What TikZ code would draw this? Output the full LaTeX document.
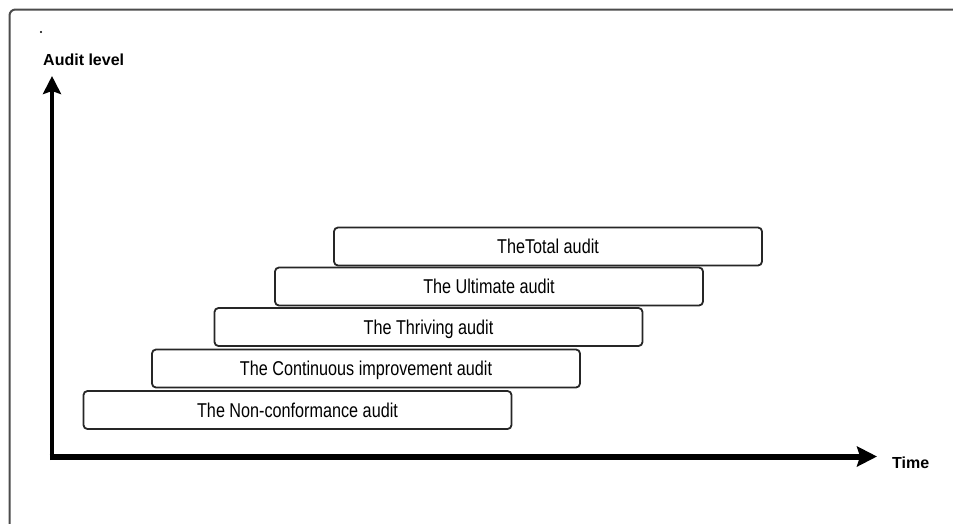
\documentclass[tikz,border=0pt]{standalone}
\usepackage{fontspec}
\usepackage{graphicx}
\setmainfont{Liberation Sans}
\usetikzlibrary{arrows.meta}

\tikzset{
  level/.style={draw=black!85, line width=1.8pt, fill=white, rounded corners=4pt,
    minimum width=428pt, minimum height=38pt, inner sep=0pt,
    text height=14.3pt, text depth=0pt,
    font=\fontsize{20}{24}\selectfont},
  axislabel/.style={font=\bfseries\fontsize{16}{19}\selectfont, inner sep=0pt, anchor=base west},
  axis/.style={black, line cap=butt},
}
\newcommand{\narrow}[1]{\scalebox{0.81}[1]{#1}}

\begin{document}
\begin{tikzpicture}[x=1pt, y=-1pt]
  \clip (0,0) rectangle (953,523);
  % outer frame, only its top and left sides fall inside the page
  \draw[line width=2pt, black!70, rounded corners=6pt] (9.5,9.5) rectangle (980,560);
  \fill (41,32) circle (1.1pt);

  % axes
  \coordinate (origin) at (52,456.5);
  \coordinate (ytop) at (52,76);
  \coordinate (xend) at (877,456.5);
  \coordinate (ybase) at (52,460);
  \coordinate (xbase) at (49.5,456.5);
  \draw[axis, line width=4.6pt, -{Stealth[length=18pt, width=18pt, inset=3pt]}] (ybase) -- (ytop);
  \draw[axis, line width=6pt, -{Stealth[length=20pt, width=20pt, inset=3pt]}] (xbase) -- (xend);

  \node[axislabel] (ylab) at (43,65.5) {Audit level};
  \node[axislabel] (xlab) at (892,468.3) {Time};

  % audit levels, stepping up over time
  \node[level] (total)  at (548,246.5) {\narrow{TheTotal audit}};
  \node[level] (ult)    at (489,286.5) {\narrow{The Ultimate audit}};
  \node[level] (thrive) at (428.5,327) {\narrow{The Thriving audit}};
  \node[level] (cont)   at (366,368.5) {\narrow{The Continuous improvement audit}};
  \node[level] (nonc)   at (297.5,410) {\narrow{The Non-conformance audit}};
\end{tikzpicture}
\end{document}
